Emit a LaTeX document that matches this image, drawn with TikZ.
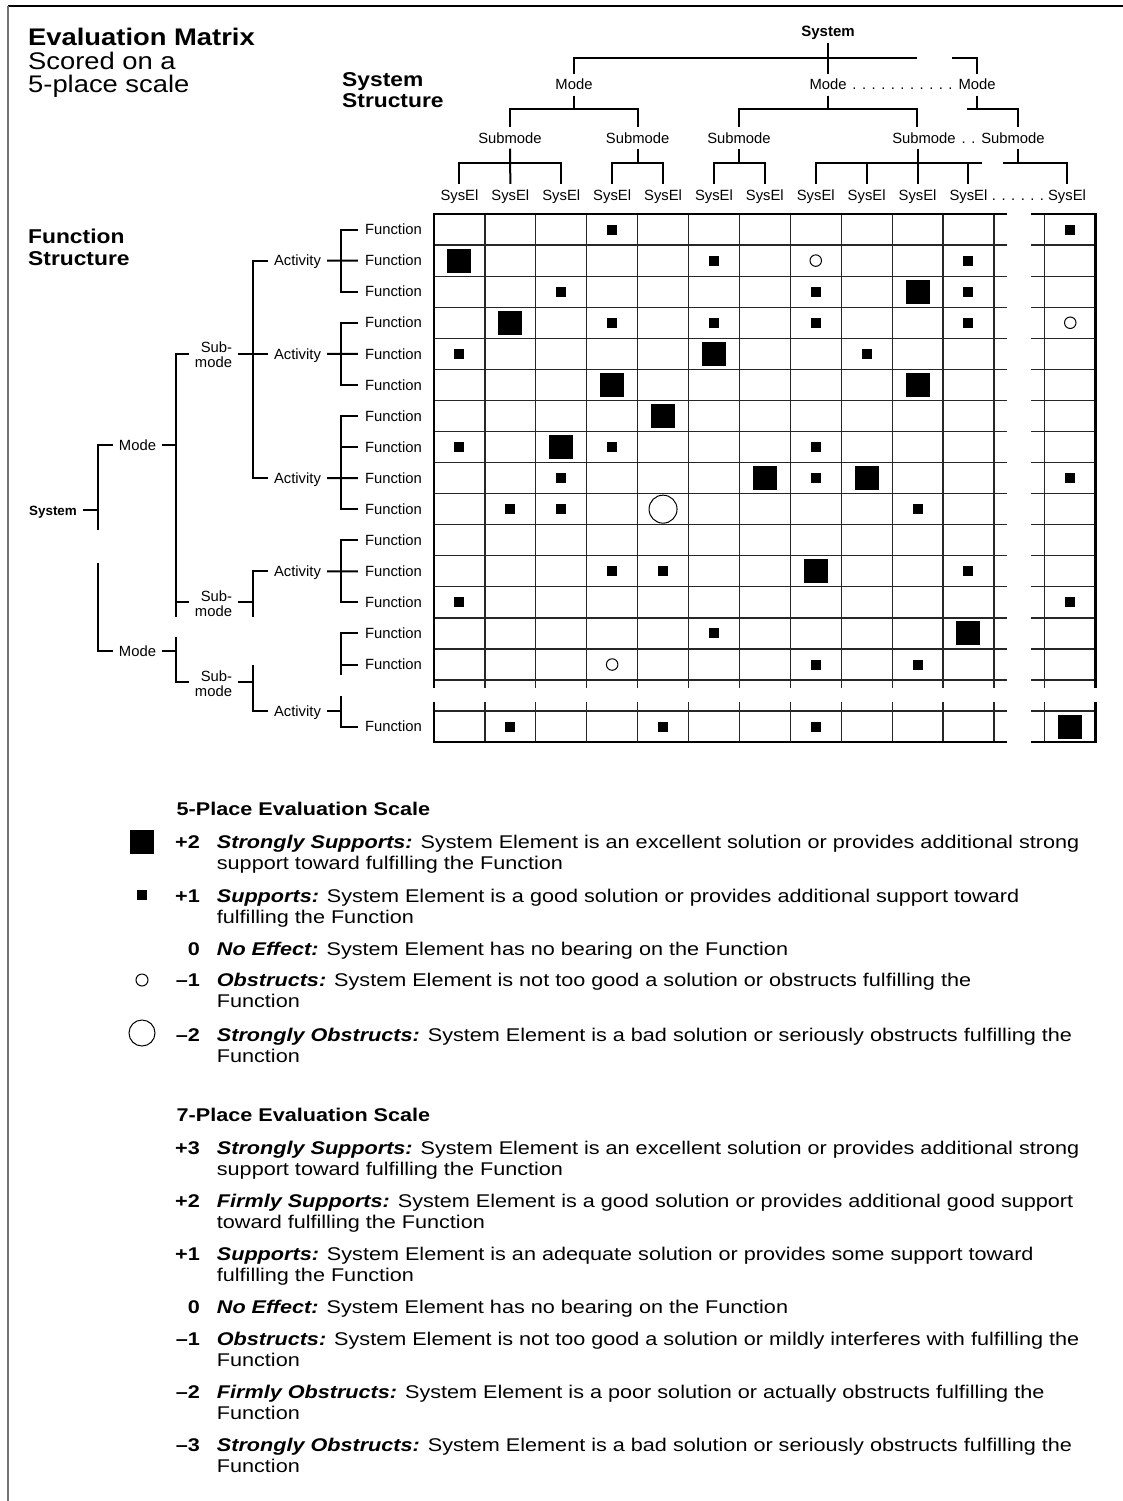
\documentclass[tikz,border=0pt]{standalone}
\usepackage{fontspec}
\setmainfont{Liberation Sans}
\newfontfamily\widesans{Liberation Sans}[FakeStretch=1.14]
\newfontfamily\legsans{Liberation Sans}[FakeStretch=1.175]
\begin{document}
\begin{tikzpicture}[x=1pt,y=-1pt,
  tree/.style={line width=2pt},
  lbl/.style={font=\fontsize{14.8}{15}\selectfont, inner xsep=6pt, inner ysep=5.5pt, text height=10.4pt, text depth=0pt},
  lblv/.style={lbl, inner xsep=0pt},
  sublbl/.style={font=\fontsize{14.8}{15}\selectfont, align=right, inner xsep=6pt, inner ysep=0pt},
  dotrow/.style={font=\fontsize{14.8}{15}\selectfont, inner sep=0pt, anchor=base},
  headline/.style={font=\widesans\bfseries\fontsize{20}{21}\selectfont, anchor=base west, inner sep=0pt},
  titleline/.style={font=\widesans\fontsize{24}{24}\selectfont, anchor=base west, inner sep=0pt},
  gridline/.style={line width=1.2pt, draw=black!85},
  frameline/.style={line width=2.5pt, line join=miter},
  mkB/.style={fill=black, minimum size=24pt, inner sep=0pt},
  mks/.style={fill=black, minimum size=10pt, inner sep=0pt},
  mko/.style={draw=black, line width=1pt, circle, minimum size=11.5pt, inner sep=0pt},
  mkO/.style={draw=black, line width=1pt, circle, minimum size=28pt, inner sep=0pt},
  legtxt/.style={font=\legsans\fontsize{18.4}{21}\selectfont, anchor=base west, inner sep=0pt},
  legnum/.style={font=\legsans\bfseries\fontsize{18.4}{21}\selectfont, anchor=base east, inner sep=0pt},
  leghead/.style={font=\legsans\bfseries\fontsize{18.4}{21}\selectfont, anchor=base west, inner sep=0pt},
]
\fill[white] (0,0) rectangle (1123,1501);
\useasboundingbox (0,0) rectangle (1123,1501);

% page frame
\draw[line width=1.5pt] (8,6) -- (1123,6);
\draw[black!55, line width=1.2pt] (8,6) -- (8,1501);

% titles
\node[titleline, font=\widesans\bfseries\fontsize{24}{24}\selectfont] (ttl1) at (28,46) {Evaluation Matrix};
\node[titleline] (ttl2) at (28,70) {Scored on a};
\node[titleline] (ttl3) at (28,93) {5-place scale};
\node[headline] (ss1) at (342,87) {System};
\node[headline] (ss2) at (342,108) {Structure};
\node[headline] (fs1) at (28,243) {Function};
\node[headline] (fs2) at (28,265) {Structure};

% ---------- system structure (top tree) ----------
\coordinate (L2) at (0,109);
\coordinate (L3) at (0,163);
\coordinate (xD) at (917,0);
\coordinate (xE) at (1018,0);
\coordinate (brkL) at (917,58);
\coordinate (brkR) at (952,58);
\coordinate (stubC) at (967,109);
\coordinate (stubD) at (982,163);
\coordinate (stubE) at (1003,163);

\node[lblv, font=\bfseries\fontsize{15}{15}\selectfont] (sysT) at (828,31.8) {System};
\node[lblv] (modeA) at (574,84.8) {Mode};
\node[lblv] (modeB) at (828,84.8) {Mode};
\node[lblv] (modeC) at (977,84.8) {Mode};
\node[dotrow] (mdots) at (902.5,90) {. . . . . . . . . . .};

\node[lblv] (smA) at (510,137.8) {Submode};
\node[lblv] (smB) at (637.6,137.8) {Submode};
\node[lblv] (smC) at (739,137.8) {Submode};
\node[lblv] (smD) at (924,137.8) {Submode};
\node[lblv] (smE) at (1013,137.8) {Submode};
\node[dotrow] (sdots) at (968.5,143) {. .};

\foreach \c in {1,...,11}
  \node[lblv] (se\c) at ({434+(\c-0.5)*50.9},194.8) {SysEl};
\node[lblv] (se13) at (1067,194.8) {SysEl};
\node[dotrow] (edots) at (1018,200) {. . . . . .};

\draw[tree] (sysT.south) -- (modeB.north);
\draw[tree] (modeA.north) |- (brkL);
\draw[tree] (brkR) -| (modeC.north);

\draw[tree] (modeA.south) -- (modeA.south |- L2);
\draw[tree] (smA.north) |- (L2 -| smB.north) -- (smB.north);
\draw[tree] (modeB.south) -- (modeB.south |- L2);
\draw[tree] (smC.north) |- (L2 -| xD) -- (smD.north -| xD);
\draw[tree] (modeC.south) -- (modeC.south |- L2);
\draw[tree] (stubC) -| (smE.north -| xE);

\draw[tree] (smA.south) -- (se2.north);
\draw[tree] (se1.north) |- (L3 -| se3.north) -- (se3.north);
\draw[tree] (smB.south) -- (smB.south |- L3);
\draw[tree] (se4.north) |- (L3 -| se5.north) -- (se5.north);
\draw[tree] (smC.south) -- (smC.south |- L3);
\draw[tree] (se6.north) |- (L3 -| se7.north) -- (se7.north);
\draw[tree] (smD.south -| se10.north) -- (se10.north);
\draw[tree] (se8.north) |- (stubD);
\draw[tree] (se9.north) -- (se9.north |- L3);
\draw[tree] (se11.north) -- (se11.north |- L3);
\draw[tree] (smE.south -| xE) -- (L3 -| xE);
\draw[tree] (stubE) -| (se13.north);

% ---------- function structure (left tree) ----------
\foreach \r in {1,...,15}
  \node[lbl, anchor=east, inner xsep=7pt] (f\r) at (429,{214+(\r-0.5)*31.07}) {Function};
\node[lbl, anchor=east, inner xsep=7pt] (f16) at (429,726.5) {Function};

\node[lbl] (a1) at (297.5,260.6) {Activity};
\node[lbl] (a2) at (297.5,353.8) {Activity};
\node[lbl] (a3) at (297.5,478.1) {Activity};
\node[lbl] (a4) at (297.5,571.3) {Activity};
\node[lbl] (a5) at (297.5,711) {Activity};

\node[sublbl] (sub1) at (213.5,355) {Sub-\\mode};
\node[sublbl] (sub2) at (213.5,604) {Sub-\\mode};
\node[sublbl] (sub3) at (213.5,684) {Sub-\\mode};

\node[lbl] (mo1) at (137.5,445) {Mode};
\node[lbl] (mo2) at (137.5,651) {Mode};
\node[lbl, font=\bfseries\fontsize{13.4}{14}\selectfont] (sysL) at (53,510) {System};

\coordinate (xa) at (341,0);
\coordinate (xs) at (253,0);
\coordinate (xm) at (176,0);
\coordinate (xy) at (98,0);
\coordinate (e1) at (176,617);
\coordinate (e2) at (176,637);
\coordinate (e3) at (253,617);
\coordinate (e4) at (253,665);
\coordinate (e5) at (341,675);
\coordinate (e6) at (341,696);
\coordinate (g1) at (98,530);
\coordinate (g2) at (98,563);

% activities to functions
\draw[tree] (f1.west) -- (f1.west -| xa) -- (f3.west -| xa) -- (f3.west);
\draw[tree] (a1.east) -- (f2.west);
\draw[tree] (f4.west) -- (f4.west -| xa) -- (f6.west -| xa) -- (f6.west);
\draw[tree] (a2.east) -- (f5.west);
\draw[tree] (f7.west) -- (f7.west -| xa) -- (f10.west -| xa) -- (f10.west);
\draw[tree] (f8.west) -- (f8.west -| xa);
\draw[tree] (a3.east) -- (f9.west);
\draw[tree] (f11.west) -- (f11.west -| xa) -- (f13.west -| xa) -- (f13.west);
\draw[tree] (a4.east) -- (f12.west);
\draw[tree] (f14.west) -| (e5);
\draw[tree] (f15.west) -- (f15.west -| xa);
\draw[tree] (e6) |- (f16.west);
\draw[tree] (a5.east) -- (a5.east -| xa);

% sub-modes to activities
\draw[tree] (a1.west) -- (a1.west -| xs) -- (a3.west -| xs) -- (a3.west);
\draw[tree] (sub1.east |- a2.west) -- (a2.west);
\draw[tree] (a4.west) -| (e3);
\draw[tree] (sub2.east |- 0,602.4) -- (xs |- 0,602.4);
\draw[tree] (e4) |- (a5.west);
\draw[tree] (sub3.east |- 0,682) -- (xs |- 0,682);

% modes to sub-modes
\draw[tree] (sub1.west |- a2.west) -| (e1);
\draw[tree] (sub2.west |- 0,602.4) -- (xm |- 0,602.4);
\draw[tree] (mo1.east) -- (mo1.east -| xm);
\draw[tree] (e2) |- (sub3.west |- 0,682);
\draw[tree] (mo2.east) -- (mo2.east -| xm);

% system to modes
\draw[tree] (mo1.west) -| (g1);
\draw[tree] (g2) |- (mo2.west);
\draw[tree] (sysL.east) -- (sysL.east -| xy);

% ---------- matrix ----------
\foreach \k in {1,...,15} {
  \draw[gridline] (434,{214+\k*31.07}) -- (1007,{214+\k*31.07});
  \draw[gridline] (1031,{214+\k*31.07}) -- (1095.7,{214+\k*31.07});
}
\draw[gridline] (434,711) -- (1007,711);
\draw[gridline] (1031,711) -- (1095.7,711);
\foreach \k in {1,...,12} {
  \draw[gridline] ({434+\k*50.9},214) -- ({434+\k*50.9},688);
  \draw[gridline] ({434+\k*50.9},702) -- ({434+\k*50.9},742);
}
\draw[frameline] (434,688) -- (434,214) -- (1007,214);
\draw[frameline] (1031,214) -- (1095.7,214) -- (1095.7,688);
\draw[frameline] (434,702) -- (434,742) -- (1007,742);
\draw[frameline] (1031,742) -- (1095.7,742) -- (1095.7,702);

% scores
\foreach \r/\c/\t in {
  1/4/s, 1/13/s,
  2/1/B, 2/6/s, 2/8/o, 2/11/s,
  3/3/s, 3/8/s, 3/10/B, 3/11/s,
  4/2/B, 4/4/s, 4/6/s, 4/8/s, 4/11/s, 4/13/o,
  5/1/s, 5/6/B, 5/9/s,
  6/4/B, 6/10/B,
  7/5/B,
  8/1/s, 8/3/B, 8/4/s, 8/8/s,
  9/3/s, 9/7/B, 9/8/s, 9/9/B, 9/13/s,
  10/2/s, 10/3/s, 10/5/O, 10/10/s,
  12/4/s, 12/5/s, 12/8/B, 12/11/s,
  13/1/s, 13/13/s,
  14/6/s, 14/11/B,
  15/4/o, 15/8/s, 15/10/s}
  \node[mk\t] (m-\r-\c) at ({434+(\c-0.5)*50.9},{214+(\r-0.5)*31.07}) {};
\foreach \c/\t in {2/s, 5/s, 8/s, 13/B}
  \node[mk\t] (m-16-\c) at ({434+(\c-0.5)*50.9},726.5) {};

% ---------- 5-place legend ----------
\node[leghead] (h5) at (176.5,815) {5-Place Evaluation Scale};
\node[fill=black, minimum size=24pt, inner sep=0pt] (k2) at (142,842) {};
\node[fill=black, minimum size=9.5pt, inner sep=0pt] (k1) at (142,895) {};
\node[draw=black, line width=1pt, circle, minimum size=12pt, inner sep=0pt] (km1) at (142,980) {};
\node[draw=black, line width=1pt, circle, minimum size=26pt, inner sep=0pt] (km2) at (142,1033) {};

\node[legnum] (n5a) at (200,848) {+2};
\node[legtxt] (t5a) at (216.7,848) {{\bfseries\itshape Strongly Supports:} System Element is an excellent solution or provides additional strong};
\node[legtxt] (t5a2) at (216.7,869) {support toward fulfilling the Function};
\node[legnum] (n5b) at (200,902) {+1};
\node[legtxt] (t5b) at (216.7,902) {{\bfseries\itshape Supports:} System Element is a good solution or provides additional support toward};
\node[legtxt] (t5b2) at (216.7,923) {fulfilling the Function};
\node[legnum] (n5c) at (200,955) {0};
\node[legtxt] (t5c) at (216.7,955) {{\bfseries\itshape No Effect:} System Element has no bearing on the Function};
\node[legnum] (n5d) at (200,986) {–1};
\node[legtxt] (t5d) at (216.7,986) {{\bfseries\itshape Obstructs:} System Element is not too good a solution or obstructs fulfilling the};
\node[legtxt] (t5d2) at (216.7,1007) {Function};
\node[legnum] (n5e) at (200,1041) {–2};
\node[legtxt] (t5e) at (216.7,1041) {{\bfseries\itshape Strongly Obstructs:} System Element is a bad solution or seriously obstructs fulfilling the};
\node[legtxt] (t5e2) at (216.7,1062) {Function};

% ---------- 7-place legend ----------
\node[leghead] (h7) at (176.5,1121) {7-Place Evaluation Scale};
\node[legnum] (n7a) at (200,1154) {+3};
\node[legtxt] (t7a) at (216.7,1154) {{\bfseries\itshape Strongly Supports:} System Element is an excellent solution or provides additional strong};
\node[legtxt] (t7a2) at (216.7,1175) {support toward fulfilling the Function};
\node[legnum] (n7b) at (200,1207) {+2};
\node[legtxt] (t7b) at (216.7,1207) {{\bfseries\itshape Firmly Supports:} System Element is a good solution or provides additional good support};
\node[legtxt] (t7b2) at (216.7,1228) {toward fulfilling the Function};
\node[legnum] (n7c) at (200,1260) {+1};
\node[legtxt] (t7c) at (216.7,1260) {{\bfseries\itshape Supports:} System Element is an adequate solution or provides some support toward};
\node[legtxt] (t7c2) at (216.7,1281) {fulfilling the Function};
\node[legnum] (n7d) at (200,1313) {0};
\node[legtxt] (t7d) at (216.7,1313) {{\bfseries\itshape No Effect:} System Element has no bearing on the Function};
\node[legnum] (n7e) at (200,1345) {–1};
\node[legtxt] (t7e) at (216.7,1345) {{\bfseries\itshape Obstructs:} System Element is not too good a solution or mildly interferes with fulfilling the};
\node[legtxt] (t7e2) at (216.7,1366) {Function};
\node[legnum] (n7f) at (200,1398) {–2};
\node[legtxt] (t7f) at (216.7,1398) {{\bfseries\itshape Firmly Obstructs:} System Element is a poor solution or actually obstructs fulfilling the};
\node[legtxt] (t7f2) at (216.7,1419) {Function};
\node[legnum] (n7g) at (200,1451) {–3};
\node[legtxt] (t7g) at (216.7,1451) {{\bfseries\itshape Strongly Obstructs:} System Element is a bad solution or seriously obstructs fulfilling the};
\node[legtxt] (t7g2) at (216.7,1472) {Function};
\end{tikzpicture}
\end{document}
